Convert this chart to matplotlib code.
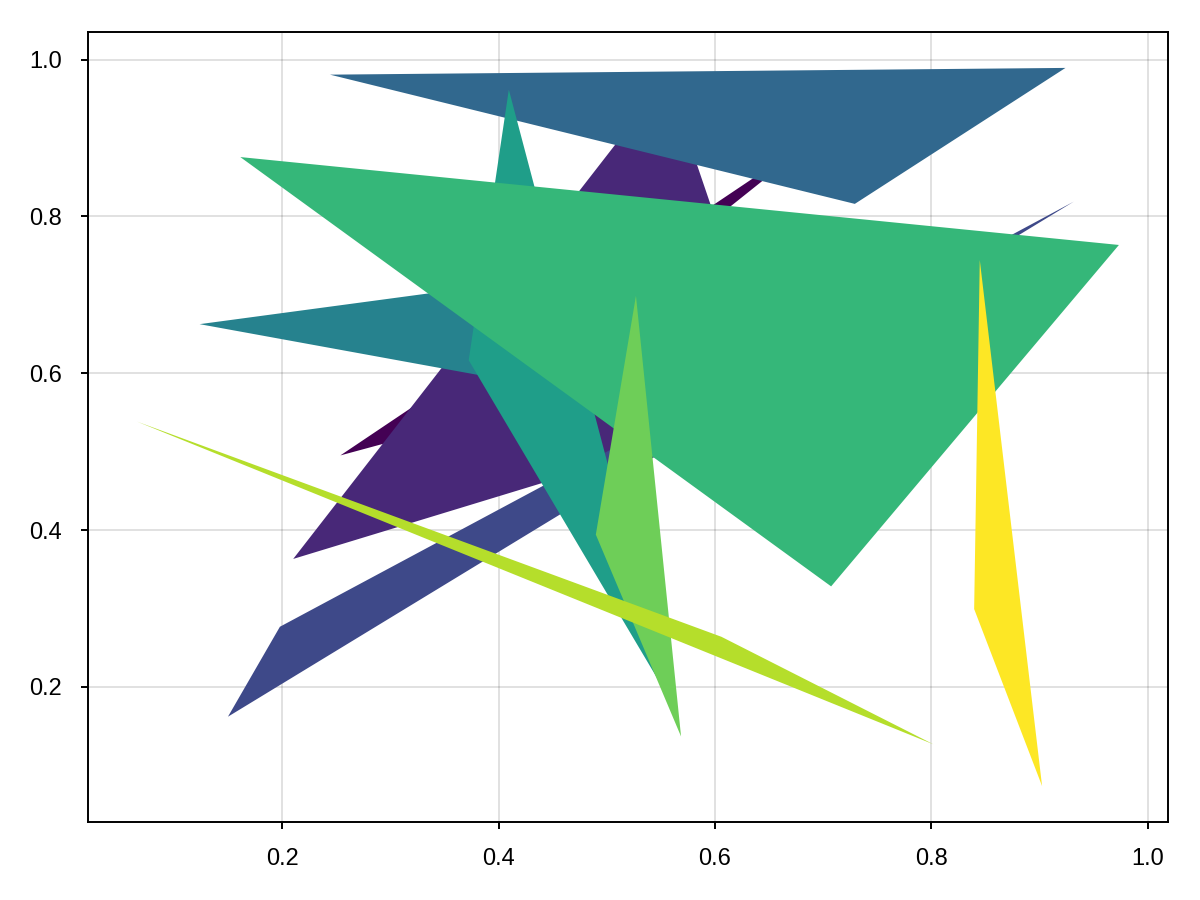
import numpy as np
import matplotlib
matplotlib.use("Agg")
import matplotlib.pyplot as plt
from matplotlib.patches import Polygon

# triangle corners (data units), drawn in this order
tri_x = [
    [0.2538, 0.7089, 0.3632],
    [0.2102, 0.5560, 0.6607],
    [0.1499, 0.1979, 0.9317],
    [0.2442, 0.9240, 0.7293],
    [0.1237, 0.5856, 0.5300],
    [0.4095, 0.3724, 0.5585],
    [0.1613, 0.9734, 0.7074],
    [0.5270, 0.4899, 0.5687],
    [0.0659, 0.6060, 0.8019],
    [0.8448, 0.8396, 0.9024],
]
tri_y = [
    [0.4952, 0.9169, 0.5361],
    [0.3632, 0.9770, 0.5527],
    [0.1620, 0.2767, 0.8189],
    [0.9808, 0.9894, 0.8160],
    [0.6626, 0.7482, 0.5604],
    [0.9617, 0.6166, 0.1834],
    [0.8757, 0.7636, 0.3282],
    [0.6988, 0.3942, 0.1367],
    [0.5383, 0.2639, 0.1268],
    [0.7444, 0.2993, 0.0735],
]
xticks = [0.2, 0.4, 0.6, 0.8, 1.0]
yticks = [0.2, 0.4, 0.6, 0.8, 1.0]

plt.rcParams['font.family'] = ['Liberation Sans', 'DejaVu Sans']

fig = plt.figure(figsize=(12, 9), dpi=100)
ax = fig.add_axes([88/1200, 78/900, 1080/1200, 790/900])

colors = plt.cm.viridis(np.linspace(0, 1, len(tri_x)))
for i in range(len(tri_x)):
    pts = np.column_stack([tri_x[i], tri_y[i]])
    ax.add_patch(Polygon(pts, closed=True, facecolor=colors[i],
                         edgecolor='none', linewidth=0, zorder=2))

# makie-like 5% margins
allx = np.concatenate(tri_x)
ally = np.concatenate(tri_y)
mx = 0.05 * (allx.max() - allx.min())
my = 0.05 * (ally.max() - ally.min())
ax.set_xlim(allx.min() - mx, allx.max() + mx)
ax.set_ylim(ally.min() - my, ally.max() + my)

ax.set_xticks(xticks)
ax.set_yticks(yticks)
ax.set_xticklabels([f"{v:.1f}" for v in xticks])
ax.set_yticklabels([f"{v:.1f}" for v in yticks])
ax.grid(True, color='black', alpha=0.12, linewidth=1.4, zorder=0)
ax.set_axisbelow(True)
ax.tick_params(direction='out', length=5, width=1.4, labelsize=17, pad=14)
for s in ax.spines.values():
    s.set_linewidth(1.4)
    s.set_zorder(5)

fig.savefig("out.png", dpi=100)
